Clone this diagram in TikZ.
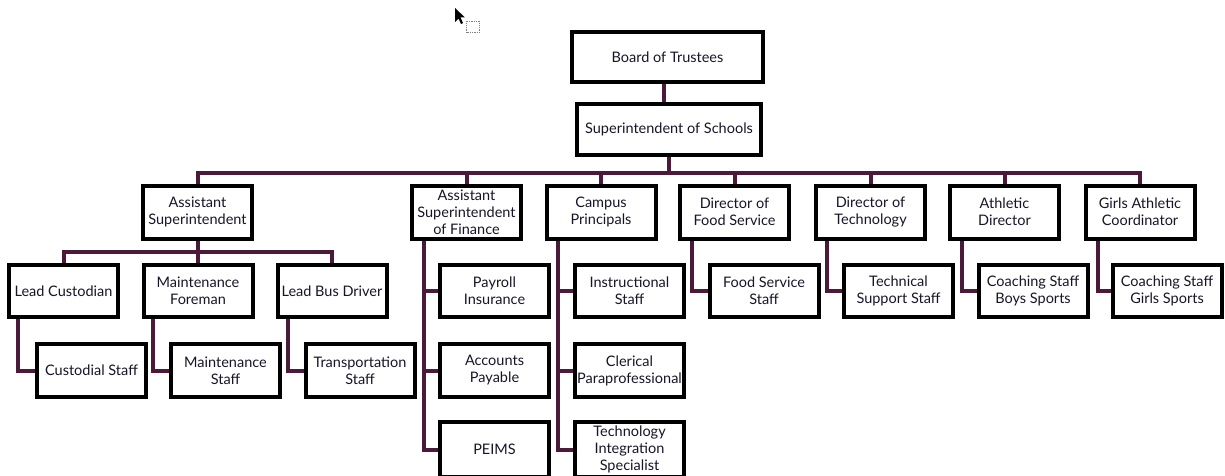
\documentclass[tikz,border=0pt]{standalone}
\usepackage{fontspec}
\setmainfont{Lato}
\usetikzlibrary{calc,backgrounds}
\definecolor{conncol}{RGB}{75,25,58}
\definecolor{txtcol}{RGB}{22,22,40}
\begin{document}
\begin{tikzpicture}[x=1pt,y=-1pt,
  box/.style={draw=black,line width=4pt,fill=white,align=center,inner sep=0pt,
    minimum width=109pt,minimum height=53pt,text=txtcol,
    font=\fontsize{14.5}{17}\selectfont},
  conn/.style={draw=conncol,line width=4pt,line cap=rect,line join=miter}]
\useasboundingbox (0,0) rectangle (1225,476);
% cursor
\fill[black] (455,8) -- (455,22) -- (458.5,18.5) -- (461,24) -- (463,23) -- (460.5,17.5) -- (465,17.5) -- cycle;
\draw[gray,densely dotted,line width=0.8pt] (466.5,21.5) rectangle (479.5,32.5);
\coordinate (bus) at (0,173);
\coordinate (busA) at (0,252);
% top boxes
\node[box,minimum width=191pt,minimum height=50pt] (bot) at (667.5,57) {Board of Trustees};
\node[box,minimum width=184pt,minimum height=51pt] (sup) at (669,129.5) {Superintendent of Schools};
% row 1
\node[box] (as)  at (197.5,212) {Assistant\\Superintendent};
\node[box] (asf) at (466.5,212) {Assistant\\Superintendent\\of Finance};
\node[box] (cp)  at (601,212)   {Campus\\Principals};
\node[box] (dfs) at (734.5,212) {Director of\\Food Service};
\node[box] (dt)  at (870.5,212) {Director of\\Technology};
\node[box] (ad)  at (1004.5,212) {Athletic\\Director};
\node[box] (gac) at (1140,212)  {Girls Athletic\\Coordinator};
% row 2
\node[box,minimum height=52pt] (lc)  at (63.5,291)  {Lead Custodian};
\node[box,minimum height=52pt] (mf)  at (198,291)   {Maintenance\\Foreman};
\node[box,minimum height=52pt] (lbd) at (332,291)   {Lead Bus Driver};
\node[box,minimum height=52pt] (pay) at (494.5,291) {Payroll\\Insurance};
\node[box,minimum height=52pt] (ins) at (629.5,291) {Instructional\\Staff};
\node[box,minimum height=52pt] (fss) at (764,291)   {Food Service\\Staff};
\node[box,minimum height=52pt] (tss) at (898.5,291) {Technical\\Support Staff};
\node[box,minimum height=52pt] (csb) at (1033,291)  {Coaching Staff\\Boys Sports};
\node[box,minimum height=52pt] (csg) at (1167,291)  {Coaching Staff\\Girls Sports};
% row 3
\node[box] (cs)  at (91.5,370.5)  {Custodial Staff};
\node[box] (ms)  at (225.5,370.5) {Maintenance\\Staff};
\node[box] (ts)  at (360,370.5)   {Transportation\\Staff};
\node[box] (ap)  at (494.5,370.5) {Accounts\\Payable};
\node[box] (cpp) at (629.5,370.5) {Clerical\\Paraprofessional};
% row 4
\node[box,minimum height=55pt] (pe)  at (494.5,449.5) {PEIMS};
\node[box,minimum height=55pt] (tis) at (629.5,449.5) {Technology\\Integration\\Specialist};
% trunk coordinates
\coordinate (botc) at ($(bot.south)+(-4,0)$);
\coordinate (lcv)  at ($(lc.south west)+(11,0)$);
\coordinate (mfv)  at ($(mf.south west)+(11,0)$);
\coordinate (lbdv) at ($(lbd.south west)+(12,0)$);
\coordinate (asfv) at ($(asf.south west)+(14,0)$);
\coordinate (cpv)  at ($(cp.south west)+(13,0)$);
\coordinate (dfsv) at ($(dfs.south west)+(14,0)$);
\coordinate (dtv)  at ($(dt.south west)+(13,0)$);
\coordinate (adv)  at ($(ad.south west)+(14,0)$);
\coordinate (gacv) at ($(gac.south west)+(14,0)$);
% connectors
\begin{scope}[on background layer]
\draw[conn] (botc) -- (botc |- sup.north);
\draw[conn] (sup.south) -- (sup.south |- bus);
\draw[conn] (as.north) -- (as.north |- bus) -- (gac.north |- bus) -- (gac.north);
\foreach \n in {asf,cp,dfs,dt,ad}{
  \draw[conn] (\n.north) -- (\n.north |- bus);
}
\draw[conn] (as.south) -- (as.south |- busA);
\draw[conn] (lc.north) -- (lc.north |- busA) -- (lbd.north |- busA) -- (lbd.north);
\draw[conn] (mf.north) -- (mf.north |- busA);
% elbows
\draw[conn] (lcv) |- (cs.west);
\draw[conn] (mfv) |- (ms.west);
\draw[conn] (lbdv) |- (ts.west);
\draw[conn] (asfv) |- (pe.west);
\draw[conn] (asfv |- pay.west) -- (pay.west);
\draw[conn] (asfv |- ap.west) -- (ap.west);
\draw[conn] (cpv) |- (tis.west);
\draw[conn] (cpv |- ins.west) -- (ins.west);
\draw[conn] (cpv |- cpp.west) -- (cpp.west);
\draw[conn] (dfsv) |- (fss.west);
\draw[conn] (dtv) |- (tss.west);
\draw[conn] (adv) |- (csb.west);
\draw[conn] (gacv) |- (csg.west);
\end{scope}
\end{tikzpicture}
\end{document}
